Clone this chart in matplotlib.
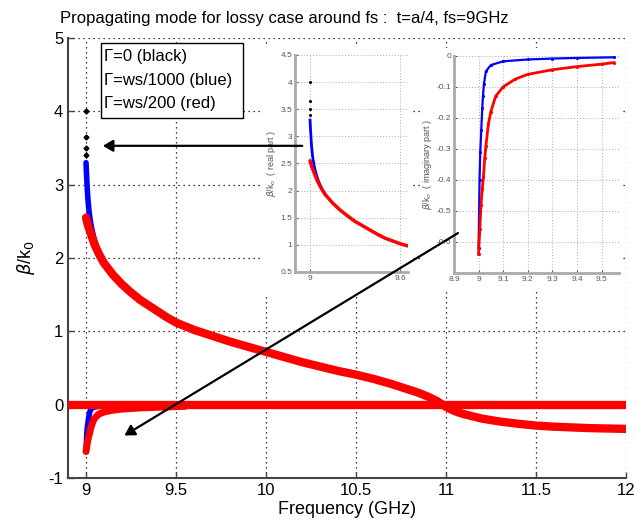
import matplotlib
matplotlib.use("Agg")
import matplotlib.pyplot as plt
from matplotlib.patches import Rectangle, FancyArrowPatch

plt.rcParams['font.family'] = ['Liberation Sans', 'DejaVu Sans']
plt.rcParams['axes.unicode_minus'] = False

# real part, Gamma = ws/200 (red)
freq_re = [9.0, 9.005, 9.01, 9.02, 9.035, 9.05, 9.075, 9.1, 9.15, 9.2, 9.25, 9.3,
           9.35, 9.4, 9.45, 9.5, 9.55, 9.6, 9.65, 9.7, 9.8, 9.9, 10.0, 10.1, 10.2,
           10.3, 10.4, 10.5, 10.6, 10.7, 10.8, 10.85, 10.9, 10.95, 11.0, 11.05,
           11.1, 11.2, 11.3, 11.4, 11.5, 11.6, 11.7, 11.8, 11.9, 12.0]
red_re = [2.55, 2.5, 2.45, 2.38, 2.27, 2.17, 2.04, 1.93, 1.77, 1.64, 1.53, 1.43,
          1.35, 1.27, 1.19, 1.12, 1.07, 1.02, 0.98, 0.94, 0.86, 0.79, 0.72, 0.65, 0.58,
          0.52, 0.46, 0.41, 0.35, 0.28, 0.2, 0.16, 0.11, 0.05, -0.03, -0.09,
          -0.13, -0.19, -0.23, -0.26, -0.285, -0.3, -0.31, -0.32, -0.325, -0.33]
# real part, Gamma = ws/1000 (blue), start near fs
freq_blue_re = [9.0, 9.002, 9.004, 9.006, 9.008, 9.01, 9.015, 9.02, 9.03, 9.04,
                9.055, 9.07, 9.085, 9.1]
blue_re = [3.3, 3.18, 3.08, 2.99, 2.9, 2.82, 2.68, 2.57, 2.42, 2.31, 2.18, 2.08,
           2.0, 1.93]
# real part, Gamma = 0 (black) points at fs
freq_black = [9.0, 9.0, 9.0, 9.0]
black_re = [4.0, 3.65, 3.5, 3.4]

# imaginary parts
freq_red_im = [9.0, 9.005, 9.01, 9.015, 9.02, 9.025, 9.03, 9.04, 9.05, 9.07, 9.1,
               9.15, 9.2, 9.3, 9.4, 9.5, 9.55]
red_im = [-0.64, -0.56, -0.48, -0.43, -0.39, -0.33, -0.29, -0.22, -0.18, -0.13, -0.1,
          -0.075, -0.06, -0.045, -0.035, -0.027, -0.022]
freq_blue_im = [9.0, 9.002, 9.004, 9.007, 9.011, 9.015, 9.018, 9.022, 9.03, 9.05,
                9.1, 9.2, 9.3, 9.4, 9.55]
blue_im = [-0.62, -0.52, -0.4, -0.31, -0.24, -0.17, -0.13, -0.09, -0.05, -0.03,
           -0.018, -0.012, -0.009, -0.007, -0.005]
freq_zero = [8.9, 12.0]
zero_im = [0.0, 0.0]

fig = plt.figure(figsize=(6.34, 5.31), dpi=100)
ax = fig.add_axes([0.1073, 0.0998, 0.880, 0.8286])

ax.plot(freq_zero, zero_im, color='black', lw=1.2, zorder=2)
ax.plot(freq_re, red_re, color='black', lw=1.2, zorder=2)
ax.plot(freq_black, black_re, 'D', color='black', ms=2.5, zorder=4)
ax.plot(freq_blue_re, blue_re, '-', color='blue', lw=4, solid_capstyle='round', zorder=3)
ax.plot(freq_blue_im, blue_im, '-', color='blue', lw=4, solid_capstyle='round', zorder=3)
ax.plot(freq_re, red_re, '-', color='red', lw=6, solid_capstyle='round',
        solid_joinstyle='round', zorder=4)
ax.plot(freq_red_im, red_im, '-', color='red', lw=5, solid_capstyle='round',
        solid_joinstyle='round', zorder=4)
ax.plot(freq_zero, zero_im, '-', color='red', lw=6, solid_capstyle='round', zorder=4)

ax.set_xlim(8.9, 12)
ax.set_ylim(-1, 5)
ax.set_xticks([9, 9.5, 10, 10.5, 11, 11.5, 12])
ax.set_xticklabels(['9', '9.5', '10', '10.5', '11', '11.5', '12'])
ax.set_yticks(range(-1, 6))
ax.grid(True, linestyle=(0, (1, 3)), color='black', lw=0.9)
ax.tick_params(direction='in', length=4, labelsize=12, width=1, color='#444444')
for s in ['top', 'right']:
    ax.spines[s].set_visible(False)
for s in ['left', 'bottom']:
    ax.spines[s].set_color('#444444')
    ax.spines[s].set_linewidth(1.5)
ax.set_xlabel('Frequency (GHz)', fontsize=13, labelpad=2)
ax.set_ylabel(r'$\beta$/k$_0$', fontsize=13, labelpad=8)
ax.set_title('Propagating mode for lossy case around fs :  t=a/4, fs=9GHz',
             fontsize=12, x=0.387, y=1.0, pad=11)

# legend box
ax.add_patch(Rectangle((0.059, 0.818), 0.2545, 0.170, transform=ax.transAxes,
                       facecolor='white', edgecolor='black', lw=1, zorder=5))
leg_lines = ['\u0393=0 (black)', '\u0393=ws/1000 (blue)', '\u0393=ws/200 (red)']
for i, t in enumerate(leg_lines):
    ax.text(0.064, 0.957 - 0.0525 * i, t, transform=ax.transAxes, fontsize=12,
            va='center', ha='left', zorder=6)

# white backgrounds of the two insets
fig.add_artist(Rectangle((0.413, 0.444), 0.237, 0.471, transform=fig.transFigure,
                         facecolor='white', edgecolor='none', zorder=0.5))
fig.add_artist(Rectangle((0.666, 0.454), 0.315, 0.456, transform=fig.transFigure,
                         facecolor='white', edgecolor='none', zorder=0.5))

def style_inset(a):
    a.grid(True, linestyle=(0, (1, 2)), color='#aaaaaa', lw=0.7)
    a.tick_params(direction='in', length=2, labelsize=6, colors='#555555', pad=2)
    for s in ['top', 'right']:
        a.spines[s].set_visible(False)
    for s in ['left', 'bottom']:
        a.spines[s].set_color('#aaaaaa')
        a.spines[s].set_linewidth(2)

# inset: real part
ax1 = fig.add_axes([0.4653, 0.4878, 0.1782, 0.4087], zorder=1)
ax1.plot(freq_black, black_re, '.', color='black', ms=2.5)
ax1.plot(freq_blue_re, blue_re, '-', color='blue', lw=2)
ax1.plot(freq_re, red_re, '-', color='red', lw=2.5, solid_capstyle='round')
ax1.set_xlim(8.9, 9.65)
ax1.set_ylim(0.5, 4.5)
ax1.set_xticks([9, 9.6])
ax1.set_xticklabels(['9', '9.6'])
ax1.set_yticks([0.5, 1, 1.5, 2, 2.5, 3, 3.5, 4, 4.5])
ax1.set_yticklabels(['0.5', '1', '1.5', '2', '2.5', '3', '3.5', '4', '4.5'])
style_inset(ax1)
ax1.set_ylabel(r'$\beta$/k$_o$  ( real part )', fontsize=6.5, color='#555555', labelpad=2)

# inset: imaginary part
ax2 = fig.add_axes([0.716, 0.486, 0.260, 0.409], zorder=1)
ax2.plot(freq_blue_im, blue_im, '.-', color='blue', lw=1.6, ms=2.5)
ax2.plot(freq_red_im, red_im, '.-', color='red', lw=2, ms=2.5)
ax2.set_xlim(8.9, 9.57)
ax2.set_ylim(-0.7, 0)
ax2.set_xticks([8.9, 9, 9.1, 9.2, 9.3, 9.4, 9.5])
ax2.set_xticklabels(['8.9', '9', '9.1', '9.2', '9.3', '9.4', '9.5'])
ax2.set_yticks([0, -0.1, -0.2, -0.3, -0.4, -0.5, -0.6])
ax2.set_yticklabels(['0', '-0.1', '-0.2', '-0.3', '-0.4', '-0.5', '-0.6'])
style_inset(ax2)
ax2.set_ylabel(r'$\beta$/k$_o$  ( imaginary part )', fontsize=6.5, color='#555555', labelpad=2)

# arrows pointing from the insets to the curves
arr1 = FancyArrowPatch((10.217, 3.53), (9.078, 3.53), transform=ax.transData,
                       arrowstyle='-|>,head_length=6,head_width=3.5', color='black',
                       lw=1.6, zorder=3)
arr2 = FancyArrowPatch((11.08, 2.36), (9.2, -0.44), transform=ax.transData,
                       arrowstyle='-|>,head_length=6,head_width=3.5', color='black',
                       lw=1.6, zorder=3)
fig.add_artist(arr1)
fig.add_artist(arr2)

fig.savefig('out.png', dpi=100)
